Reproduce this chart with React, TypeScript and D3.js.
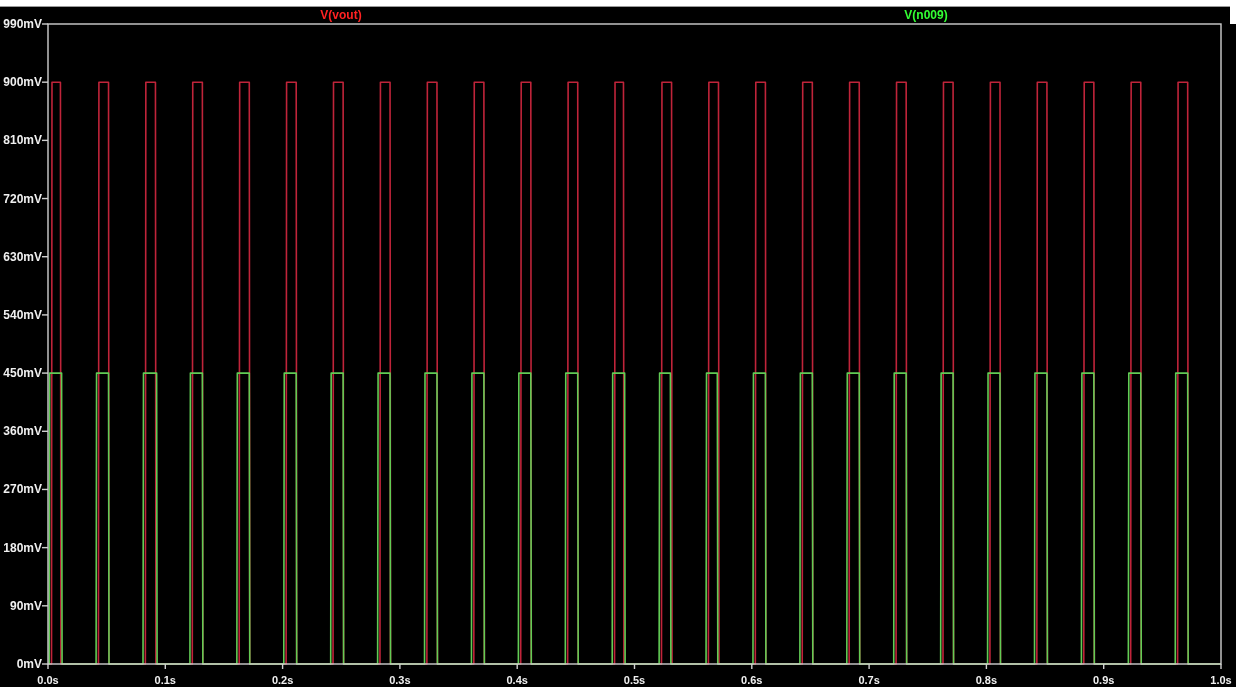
import * as d3 from 'd3';

// pulse edges (seconds)
const voutRise = [0.003, 0.043, 0.083, 0.123, 0.163, 0.203, 0.243, 0.283, 0.323, 0.363, 0.403, 0.443, 0.483, 0.523, 0.563, 0.603, 0.643, 0.683, 0.723, 0.763, 0.803, 0.843, 0.883, 0.923, 0.963];
const voutFall = [0.011, 0.052, 0.092, 0.132, 0.172, 0.212, 0.252, 0.292, 0.332, 0.372, 0.412, 0.452, 0.491, 0.532, 0.572, 0.612, 0.652, 0.692, 0.732, 0.772, 0.812, 0.852, 0.892, 0.932, 0.972];
const n009Rise = [0.001, 0.041, 0.081, 0.121, 0.161, 0.201, 0.241, 0.281, 0.321, 0.361, 0.401, 0.441, 0.481, 0.521, 0.561, 0.601, 0.641, 0.681, 0.721, 0.761, 0.801, 0.841, 0.881, 0.921, 0.961];
const n009Fall = [0.012, 0.052, 0.093, 0.132, 0.172, 0.212, 0.252, 0.292, 0.332, 0.372, 0.412, 0.452, 0.492, 0.531, 0.571, 0.612, 0.652, 0.692, 0.732, 0.772, 0.812, 0.852, 0.892, 0.932, 0.972];
const voutHigh = 0.9;
const n009High = 0.45;

const yTicks = [0, 0.09, 0.18, 0.27, 0.36, 0.45, 0.54, 0.63, 0.72, 0.81, 0.9, 0.99];
const yLabels = ['0mV', '90mV', '180mV', '270mV', '360mV', '450mV', '540mV', '630mV', '720mV', '810mV', '900mV', '990mV'];
const xTicks = [0, 0.1, 0.2, 0.3, 0.4, 0.5, 0.6, 0.7, 0.8, 0.9, 1.0];
const xLabels = ['0.0s', '0.1s', '0.2s', '0.3s', '0.4s', '0.5s', '0.6s', '0.7s', '0.8s', '0.9s', '1.0s'];

const W = 1236, H = 687;
const left = 48, right = 1221, top = 24, bottom = 664;

const x = d3.scaleLinear().domain([0, 1]).range([left, right]);
const y = d3.scaleLinear().domain([0, 0.99]).range([bottom, top]);

const edge = 0.0004;

function pulsePoints(rise: number[], fall: number[], high: number): [number, number][] {
  const pts: [number, number][] = [[0, 0]];
  rise.forEach((s, i) => {
    const e = fall[i];
    pts.push([s, 0], [s + edge, high], [e - edge, high], [e, 0]);
  });
  pts.push([1, 0]);
  return pts;
}

const line = d3.line<[number, number]>()
  .x(d => x(d[0]))
  .y(d => y(d[1]));

const font = "'Liberation Sans Narrow', 'Arial Narrow', 'Liberation Sans', Arial, sans-serif";

export default function App() {
  const voutPath = line(pulsePoints(voutRise, voutFall, voutHigh)) || '';
  const n009Path = line(pulsePoints(n009Rise, n009Fall, n009High)) || '';

  return (
    <svg width={W} height={H} style={{ position: 'absolute', left: 0, top: 0, display: 'block' }}>
      <rect x={0} y={0} width={W} height={H} fill="#000" />
      <rect x={0} y={0} width={W} height={6} fill="#fff" />
      <line x1={0} x2={W} y1={6.5} y2={6.5} stroke="#9a9a9a" />
      <rect x={1230} y={0} width={6} height={24} fill="#fff" />

      {/* trace names */}
      <text x={341} y={19} textAnchor="middle" fill="#ff2222" fontFamily={font} fontWeight="bold" fontSize={12}>V(vout)</text>
      <text x={926} y={19} textAnchor="middle" fill="#33ff33" fontFamily={font} fontWeight="bold" fontSize={12}>V(n009)</text>

      {/* traces */}
      <g fill="none" strokeLinejoin="round" style={{ mixBlendMode: 'screen' }}>
        <path d={voutPath} stroke="#c0243a" strokeWidth={1.6} />
        <path d={n009Path} stroke="#62cc55" strokeWidth={1.6} />
      </g>

      {/* frame */}
      <rect x={left} y={top} width={right - left} height={bottom - top} fill="none" stroke="#cfcfcf" strokeWidth={1.4} />

      {/* y axis */}
      {yTicks.map((v, i) => (
        <g key={'y' + i}>
          <line x1={left - 6} x2={left} y1={y(v)} y2={y(v)} stroke="#cfcfcf" strokeWidth={1.4} />
          <text x={left - 6} y={y(v) + 4} textAnchor="end" fill="#f0f0f0" fontFamily={font} fontWeight="bold" fontSize={12}>{yLabels[i]}</text>
        </g>
      ))}

      {/* x axis */}
      {xTicks.map((v, i) => (
        <g key={'x' + i}>
          <line x1={x(v)} x2={x(v)} y1={bottom} y2={bottom + 5} stroke="#cfcfcf" strokeWidth={1.4} />
          <text x={x(v)} y={684} textAnchor="middle" fill="#f0f0f0" fontFamily={font} fontWeight="bold" fontSize={11}>{xLabels[i]}</text>
        </g>
      ))}
    </svg>
  );
}
